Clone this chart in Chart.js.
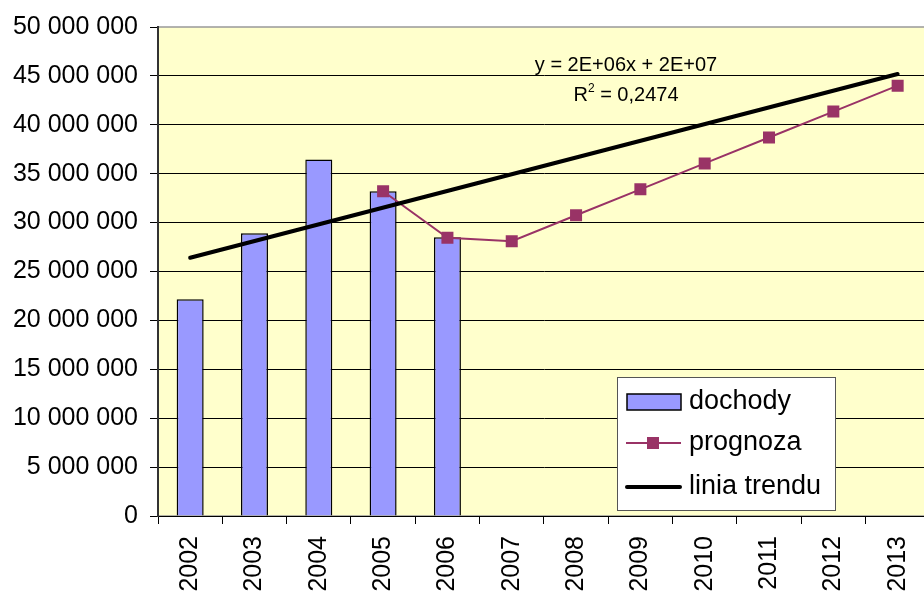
<!DOCTYPE html>
<html>
<head>
<meta charset="utf-8">
<script src="https://cdn.jsdelivr.net/npm/chart.js@4.4.1/dist/chart.umd.min.js"></script>
<style>
  html, body { margin: 0; padding: 0; background: #fff; overflow: hidden; }
  canvas { display: block; }
</style>
</head>
<body>
<canvas id="chart" width="940" height="592"></canvas>
<script>
// ---------------- DATA ----------------
const years = ["2002", "2003", "2004", "2005", "2006", "2007", "2008", "2009", "2010", "2011", "2012", "2013"];
const dochody = [22150000, 28900000, 36450000, 33200000, 28500000, null, null, null, null, null, null, null];
const prognoza = [null, null, null, 33200000, 28450000, 28100000, 30750000, 33400000, 36050000, 38700000, 41350000, 44000000];
// trend line: only its two end values, joined by the library
const trend = [26400000, null, null, null, null, null, null, null, null, null, null, 45200000];
const yTicks = [0, 5000000, 10000000, 15000000, 20000000, 25000000, 30000000, 35000000, 40000000, 45000000, 50000000];
const trendLabel = "y = 2E+06x + 2E+07";
const r2Value = " = 0,2474";

const FONT = '"Liberation Sans", Arial, sans-serif';

function fmt(v) {
  return String(v).replace(/\B(?=(\d{3})+(?!\d))/g, " ");
}

// ---------------- PLUGINS ----------------
const plotBg = {
  id: "plotBg",
  beforeDraw(chart) {
    const { ctx, chartArea: a } = chart;
    ctx.save();
    ctx.fillStyle = "#FFFFCC";
    ctx.fillRect(a.left, a.top, a.right - a.left, a.bottom - a.top);
    ctx.strokeStyle = "#999999";
    ctx.lineWidth = 1.5;
    ctx.strokeRect(a.left, a.top, a.right - a.left, a.bottom - a.top);
    ctx.restore();
  }
};

const extras = {
  id: "extras",
  afterDraw(chart) {
    const { ctx, chartArea: a } = chart;
    ctx.save();
    // trend equation
    ctx.fillStyle = "#000";
    ctx.font = "20px " + FONT;
    ctx.textAlign = "center";
    ctx.textBaseline = "middle";
    ctx.fillText(trendLabel, a.left + 468, a.top + 38);
    const w1 = ctx.measureText("R").width;
    const w3 = ctx.measureText(r2Value).width;
    ctx.font = "12px " + FONT;
    const w2 = ctx.measureText("2").width;
    const total = w1 + w2 + w3;
    let x = a.left + 468 - total / 2;
    ctx.textAlign = "left";
    ctx.font = "20px " + FONT;
    ctx.fillText("R", x, a.top + 68);
    ctx.font = "12px " + FONT;
    ctx.fillText("2", x + w1, a.top + 62);
    ctx.font = "20px " + FONT;
    ctx.fillText(r2Value, x + w1 + w2, a.top + 68);

    // legend box
    const lx = 617, ly = 377, lw = 218, lh = 133;
    ctx.fillStyle = "#fff";
    ctx.fillRect(lx, ly, lw, lh);
    ctx.strokeStyle = "#555";
    ctx.lineWidth = 1;
    ctx.strokeRect(lx + 0.5, ly + 0.5, lw, lh);
    const ds = chart.data.datasets;
    const rows = [ly + 25, ly + 66, ly + 110];
    ctx.font = "27px " + FONT;
    ctx.textAlign = "left";
    ctx.textBaseline = "middle";
    // bars
    ctx.fillStyle = ds[0].backgroundColor;
    ctx.fillRect(627, rows[0] - 8, 54, 16);
    ctx.strokeStyle = "#000";
    ctx.lineWidth = 1.5;
    ctx.strokeRect(627, rows[0] - 8, 54, 16);
    // prognoza
    ctx.strokeStyle = ds[1].borderColor;
    ctx.lineWidth = 2;
    ctx.beginPath();
    ctx.moveTo(626, rows[1]);
    ctx.lineTo(681, rows[1]);
    ctx.stroke();
    ctx.fillStyle = ds[1].backgroundColor;
    ctx.fillRect(647, rows[1] - 6, 12, 12);
    // trend
    ctx.strokeStyle = "#000";
    ctx.lineWidth = 4;
    ctx.lineCap = "round";
    ctx.beginPath();
    ctx.moveTo(627, rows[2]);
    ctx.lineTo(680, rows[2]);
    ctx.stroke();
    ctx.fillStyle = "#000";
    ctx.fillText(ds[0].label, 689, rows[0]);
    ctx.fillText(ds[1].label, 689, rows[1]);
    ctx.fillText(ds[2].label, 689, rows[2]);
    ctx.restore();
  }
};

// ---------------- CHART ----------------
const ctx = document.getElementById("chart").getContext("2d");
new Chart(ctx, {
  data: {
    labels: years,
    datasets: [
      {
        type: "bar",
        label: "dochody",
        data: dochody,
        backgroundColor: "#9999FF",
        borderColor: "#000",
        borderWidth: 1.5,
        categoryPercentage: 0.42,
        barPercentage: 1,
        order: 3
      },
      {
        type: "line",
        label: "prognoza",
        data: prognoza,
        borderColor: "#993366",
        backgroundColor: "#993366",
        borderWidth: 2,
        pointStyle: "rect",
        pointRadius: 8.5,
        pointBorderWidth: 0,
        order: 2
      },
      {
        type: "line",
        label: "linia trendu",
        data: trend,
        borderColor: "#000",
        borderWidth: 4,
        borderCapStyle: "round",
        pointRadius: 0,
        spanGaps: true,
        order: 1
      }
    ]
  },
  options: {
    responsive: false,
    animation: false,
    layout: { padding: { top: 23, right: 3, left: 0, bottom: 0 } },
    plugins: {
      legend: { display: false },
      tooltip: { enabled: false }
    },
    scales: {
      x: {
        offset: true,
        grid: {
          offset: true,
          drawOnChartArea: false,
          drawTicks: true,
          tickLength: 8,
          tickColor: "#000"
        },
        border: { color: "#000", width: 1 },
        ticks: {
          color: "#000",
          font: { family: FONT, size: 25 },
          minRotation: 90,
          maxRotation: 90,
          padding: 12,
          autoSkip: false
        },
        afterFit(s) { s.height = 76; }
      },
      y: {
        min: 0,
        max: 50000000,
        afterBuildTicks(s) { s.ticks = yTicks.map(v => ({ value: v })); },
        grid: {
          color: c => (c.tick && c.tick.value === 50000000 ? "rgba(0,0,0,0)" : "#000"),
          lineWidth: 1,
          tickLength: 8,
          tickColor: "#000"
        },
        border: { color: "#333", width: 2 },
        ticks: {
          color: "#000",
          font: { family: FONT, size: 25 },
          padding: 12,
          callback: v => fmt(v)
        },
        afterFit(s) { s.width = 158; }
      }
    }
  },
  plugins: [plotBg, extras]
});
</script>
</body>
</html>
